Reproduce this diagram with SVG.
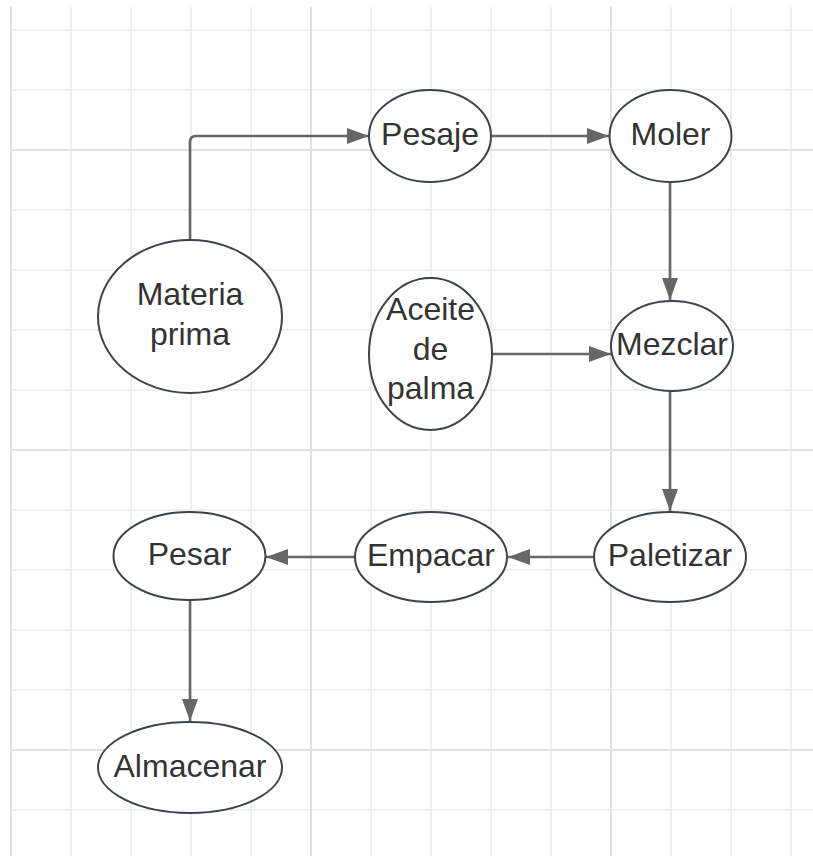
<svg xmlns="http://www.w3.org/2000/svg" width="813" height="856" viewBox="0 0 813 856">
<style>
.g{stroke:#ebebeb;stroke-width:1.5}
.gm{stroke:#e0e0e0;stroke-width:2}
.n ellipse{fill:#fff;stroke:#3d434b;stroke-width:2}
.n text{font-family:"Liberation Sans",Arial,sans-serif;font-size:32px;fill:#333;text-anchor:middle}
.c{fill:none;stroke:#666;stroke-width:2.6;marker-end:url(#ah)}
</style>
<defs>
<marker id="ah" markerUnits="userSpaceOnUse" markerWidth="24" markerHeight="18" refX="22" refY="8" orient="auto">
<path d="M0,0 L22,8 L0,16 z" fill="#666"/>
</marker>
</defs>
<rect width="813" height="856" fill="#fff"/>
<g id="grid">
<path class="g" d="M71,7V856M131,7V856M191,7V856M251,7V856M371,7V856M431,7V856M491,7V856M551,7V856M671,7V856M731,7V856M791,7V856"/>
<path class="g" d="M10,30H813M10,90H813M10,210H813M10,270H813M10,330H813M10,390H813M10,510H813M10,570H813M10,630H813M10,690H813M10,810H813"/>
<path class="gm" d="M11,7V856M311,7V856M611,7V856M10,150H813M10,450H813M10,750H813"/>
</g>
<g id="connectors">
<path class="c" d="M190,240 V142 Q190,136 196,136 H369"/>
<path class="c" d="M491,136 H609"/>
<path class="c" d="M670,182 V300"/>
<path class="c" d="M492,354 H611"/>
<path class="c" d="M670,391 V511"/>
<path class="c" d="M594,557 H508"/>
<path class="c" d="M355,557 H266"/>
<path class="c" d="M190,600 V721"/>
</g>
<g id="materia" class="n"><ellipse cx="190" cy="316.5" rx="92" ry="76.5"/><text x="190" y="305">Materia</text><text x="190" y="345">prima</text></g>
<g id="pesaje" class="n"><ellipse cx="430" cy="136" rx="61" ry="46"/><text x="430" y="145">Pesaje</text></g>
<g id="moler" class="n"><ellipse cx="670.5" cy="136" rx="61" ry="46"/><text x="670.5" y="145">Moler</text></g>
<g id="aceite" class="n"><ellipse cx="430.5" cy="354" rx="61.5" ry="76"/><text x="430.5" y="320">Aceite</text><text x="430.5" y="360">de</text><text x="430.5" y="399">palma</text></g>
<g id="mezclar" class="n"><ellipse cx="672" cy="346" rx="61" ry="45"/><text x="672" y="355">Mezclar</text></g>
<g id="paletizar" class="n"><ellipse cx="670" cy="557" rx="76" ry="45"/><text x="670" y="566">Paletizar</text></g>
<g id="empacar" class="n"><ellipse cx="431" cy="557" rx="76" ry="45"/><text x="431" y="566">Empacar</text></g>
<g id="pesar" class="n"><ellipse cx="189.5" cy="556" rx="76" ry="44"/><text x="189.5" y="565">Pesar</text></g>
<g id="almacenar" class="n"><ellipse cx="190" cy="767.5" rx="92" ry="45.5"/><text x="190" y="777">Almacenar</text></g>
</svg>
